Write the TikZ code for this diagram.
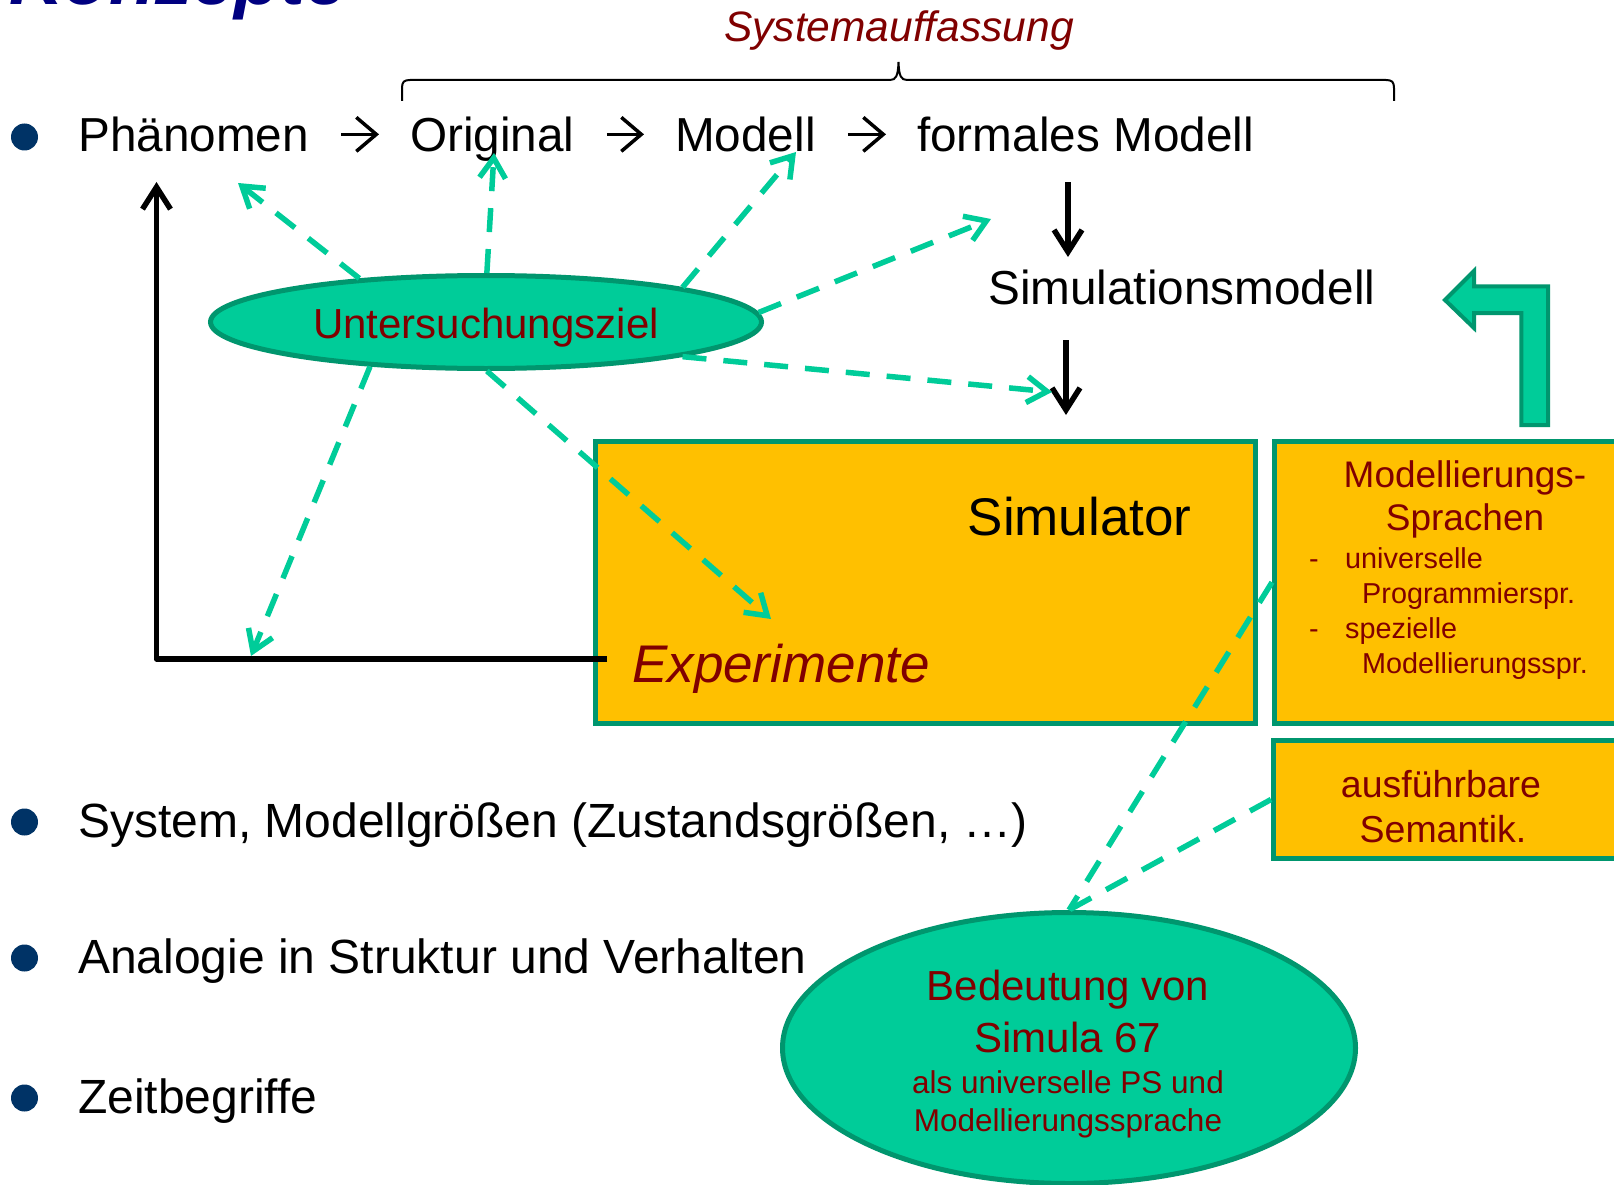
\documentclass[tikz,border=0pt]{standalone}
\usepackage{fontspec}
\setmainfont{Liberation Sans}
\usetikzlibrary{arrows.meta,shapes.geometric}
\definecolor{grn}{RGB}{0,204,153}
\definecolor{grnline}{RGB}{0,150,110}
\definecolor{amber}{RGB}{255,192,0}
\definecolor{darkred}{RGB}{128,0,0}
\definecolor{navy}{RGB}{0,0,128}
\definecolor{dotblue}{RGB}{0,51,102}
\newcommand{\fsz}[1]{\fontsize{#1}{#1}\selectfont}

\begin{document}
\begin{tikzpicture}[x=1pt,y=1pt,
  word/.style={font=\fsz{47.7}, inner sep=0pt, text height=44.8pt, text depth=9.5pt, anchor=base west},
  bodytext/.style={font=\fsz{48}, inner sep=0pt, anchor=base west},
  dotmark/.style={circle, fill=dotblue, minimum size=27pt, inner sep=0pt},
  redtext/.style={text=darkred, inner sep=0pt, anchor=base},
  redleft/.style={text=darkred, inner sep=0pt, anchor=base west, font=\fsz{28.8}},
  panel/.style={draw=grnline, fill=amber, line width=5pt, inner sep=0pt},
  bubble/.style={ellipse, draw=grnline, fill=grn, line width=5pt, inner sep=0pt},
  seqarrow/.style={line width=3.5pt, -{Straight Barb[length=20pt,width=34pt]}, shorten <=32pt, shorten >=31pt},
  blk/.style={line width=5.5pt, -{Straight Barb[length=22pt,width=28pt]}},
  gdash/.style={draw=grn, line width=5.5pt, dash pattern=on 24pt off 17pt},
  garrow/.style={gdash, -{Straight Barb[length=20pt,width=26pt]}},
]
\useasboundingbox (0,0) rectangle (1614,-1185);
\fill[white] (0,0) rectangle (1614,-1185);
\clip (0,0) rectangle (1614,-1185);

% slide heading, cut by the upper edge
\node[font=\bfseries\itshape\fsz{75}, text=navy, inner sep=0pt, anchor=base west] (heading) at (9,-5) {Konzepte};

% first bullet: the modelling chain
\node[dotmark] (d1) at (24.5,-137) {};
\node[word] (phen) at (78,-152) {Phänomen};
\node[word] (orig) at (410,-152) {Original};
\node[word] (mod) at (675,-152) {Modell};
\node[word] (fm) at (917,-152) {formales Modell};
\draw[seqarrow] (phen.east) -- (orig.west);
\draw[seqarrow] (orig.east) -- (mod.west);
\draw[seqarrow] (mod.east) -- (fm.west);

% brace with its caption
\draw[line width=2pt] (402,-101) -- (402,-88) .. controls (402,-82) and (404,-80) .. (410,-80)
  -- (890,-80) .. controls (896,-80) and (898,-76) .. (898.5,-62)
  .. controls (899,-76) and (901,-80) .. (907,-80) -- (1386,-80)
  .. controls (1392,-80) and (1394,-82) .. (1394,-88) -- (1394,-101);
\node[redtext, font=\itshape\fsz{42.5}] (sysauf) at (899,-42) {Systemauffassung};

\node[word] (simmod) at (988,-304) {Simulationsmodell};

% boxes
\node[panel, minimum width=660pt, minimum height=281.5pt] (sim) at (925.5,-582.25) {};
\node[panel, minimum width=385.5pt, minimum height=281.5pt] (msp) at (1467.25,-582.25) {};
\node[panel, minimum width=386.5pt, minimum height=118pt] (aus) at (1466.75,-799.5) {};

\node[inner sep=0pt, anchor=base west, font=\fsz{53}] (simtxt) at (967.5,-535) {Simulator};
\node[inner sep=0pt, anchor=base west, font=\itshape\fsz{53}, text=darkred] (expt) at (632,-682) {Experimente};

\node[redtext, font=\fsz{37}] (msp1) at (1465,-487) {Modellierungs-};
\node[redtext, font=\fsz{37}] (msp2) at (1465,-530) {Sprachen};
\node[redleft] (dash1) at (1309,-568) {-};
\node[redleft] (msp3) at (1345,-568) {universelle};
\node[redleft] (msp4) at (1362,-603) {Programmierspr.};
\node[redleft] (dash2) at (1309,-638) {-};
\node[redleft] (msp5) at (1345,-638) {spezielle};
\node[redleft] (msp6) at (1362,-673) {Modellierungsspr.};

\node[redtext, font=\fsz{37.5}] (aus1) at (1441,-797) {ausführbare};
\node[redtext, font=\fsz{37.5}] (aus2) at (1443,-842) {Semantik.};

% bent block arrow
\filldraw[draw=grnline, fill=grn, line width=4pt, line join=miter]
  (1445,-300) -- (1474,-271) -- (1474,-286.3) -- (1548,-286.3) -- (1548,-425)
  -- (1521.3,-425) -- (1521.3,-313) -- (1474,-313) -- (1474,-328) -- cycle;

% goal ellipse
\node[bubble, minimum width=551pt, minimum height=93pt, text height=33pt, text depth=0pt,
      font=\fsz{42}, text=darkred] (goal) at (486,-322) {Untersuchungsziel};

% Simula 67 ellipse
\node[bubble, minimum width=573pt, minimum height=271pt] (sim67) at (1069,-1048) {};
\node[redtext, font=\fsz{42}] (s1) at (1068,-1000) {Bedeutung von};
\node[redtext, font=\fsz{42}] (s2) at (1068,-1052) {Simula 67};
\node[redtext, font=\fsz{31.5}] (s3) at (1068,-1093) {als universelle PS und};
\node[redtext, font=\fsz{31.5}] (s4) at (1068,-1131) {Modellierungssprache};

% other bullets
\node[dotmark] (d2) at (24.5,-822) {};
\node[bodytext] (b2) at (78,-837) {System, Modellgrößen (Zustandsgrößen, …)};
\node[dotmark] (d3) at (24.5,-958) {};
\node[bodytext] (b3) at (78,-973) {Analogie in Struktur und Verhalten};
\node[dotmark] (d4) at (24.5,-1098) {};
\node[bodytext] (b4) at (78,-1113) {Zeitbegriffe};

% black arrows
\coordinate (axtop) at (156.5,-182);
\coordinate (axend) at (607,-659);
\draw[blk, line join=round] (axend) -| (axtop);
\coordinate (vx) at (1068,0);
\coordinate (vy) at (1066,0);
\draw[blk, shorten <=20.5pt, shorten >=2pt] (fm.south -| vx) -- (simmod.north -| vx);
\draw[blk, shorten <=26.5pt, shorten >=24pt] (simmod.south -| vy) -- (sim.north -| vy);

% dashed arrows from the goal
\coordinate (t1) at (238,-183);
\coordinate (t2) at (494,-153);
\coordinate (t3) at (796,-152);
\coordinate (t4) at (991,-219);
\coordinate (t5) at (1052,-392);
\coordinate (t6) at (771,-619);
\coordinate (t7) at (251,-656);
\draw[garrow] (goal.161) -- (t1);
\draw[garrow] (goal.89) -- (t2);
\draw[garrow] (goal.10) -- (t3);
\draw[garrow] (goal.2) -- (t4);
\draw[garrow] (goal.-10) -- (t5);
\draw[garrow] (goal.-89) -- (t6);
\draw[garrow] (goal.201) -- (t7);

% dashed links to the Simula 67 ellipse
\draw[gdash] (msp.west) -- (sim67.north);
\draw[gdash] (aus.west) -- (sim67.north);
\end{tikzpicture}
\end{document}
